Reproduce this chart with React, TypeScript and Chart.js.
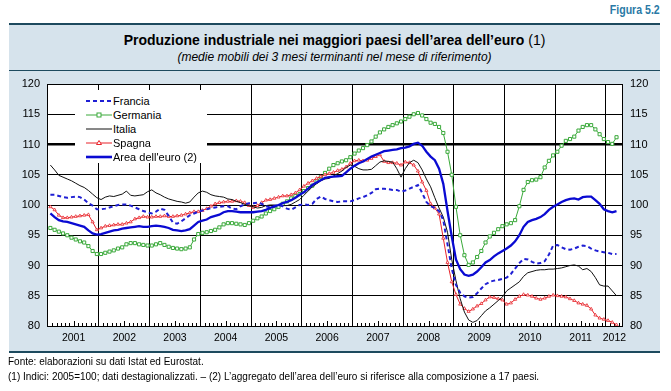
import React, { useEffect, useRef } from "react";
import { Chart, registerables } from "chart.js";
Chart.register(...registerables);

// Monthly data, Jan 2001 .. Mar 2012 (3-month moving averages, 2005=100)
const francia = [
  101.7, 101.7, 101.5, 101.3, 101.2, 101.3, 101.4, 101.3, 100.9, 100.3, 99.9, 99.3,
  99.3, 99.4, 99.6, 99.8, 100.0, 100.1, 100.1, 99.9, 99.6, 99.3, 99.0, 98.8,
  98.6, 98.9, 99.4, 99.2, 98.2, 97.1, 96.9, 97.3, 97.8, 98.3, 98.6, 98.9,
  99.1, 99.3, 99.5, 99.6, 99.7, 99.8, 99.8, 99.4, 99.3, 99.8, 100.1, 100.3,
  100.3, 100.4, 100.2, 99.8, 99.6, 99.7, 100.0, 99.8, 99.4, 99.2, 99.6, 100.0,
  100.1, 100.0, 100.2, 101.0, 101.4, 101.0, 100.8, 100.6, 100.5, 100.6, 100.6, 100.6,
  100.8, 101.1, 101.3, 101.6, 102.0, 102.6, 102.7, 102.7, 102.6, 102.5, 102.5, 102.2,
  102.4, 102.7, 103.0, 103.3, 102.0, 100.5, 99.8, 99.5, 99.0, 97.5, 93.5, 89.5,
  86.8, 85.5, 84.9, 84.7, 84.8, 85.4, 86.2, 86.9, 87.3, 87.5, 87.6, 87.8,
  88.0, 88.6, 89.5, 90.4, 91.1, 91.0, 90.6, 90.3, 90.4, 90.7, 91.8, 93.3,
  93.4, 93.0, 92.7, 92.6, 92.8, 93.1, 93.3, 93.2, 92.8, 92.5, 92.3, 92.2,
  92.1, 91.9, 91.9,
];
const germania = [
  96.2, 95.9, 95.6, 95.3, 95.0, 94.6, 94.3, 94.0, 93.8, 93.2, 92.4, 91.9,
  91.9, 92.1, 92.3, 92.5, 92.8, 93.0, 93.5, 93.7, 93.7, 93.5, 93.4, 93.3,
  93.3, 93.5, 93.7, 93.4, 93.1, 92.9, 92.8, 92.7, 92.8, 93.0, 94.3, 95.2,
  95.4, 95.5, 95.7, 95.9, 96.3, 96.8, 97.0, 97.0, 96.9, 96.8, 96.7, 97.0,
  97.4, 97.8, 98.1, 98.6, 99.0, 99.3, 99.7, 100.2, 100.6, 101.1, 101.5, 101.8,
  102.3, 102.8, 103.2, 103.9, 104.6, 105.3, 106.0, 106.6, 106.9, 107.2, 107.4, 107.9,
  108.5, 109.0, 109.4, 109.9, 110.5, 111.3, 112.0, 112.5, 112.9, 113.2, 113.5, 113.8,
  114.2, 114.6, 115.0, 115.2, 114.8, 114.2, 113.6, 113.4, 112.9, 111.9, 108.8, 105.0,
  99.7, 95.0, 91.7, 90.1, 90.5, 91.4, 92.4, 93.8, 94.8, 95.4, 96.0, 96.5,
  96.8, 97.0, 97.5, 99.8, 102.5, 103.8, 104.1, 104.2, 104.6, 106.2, 107.3, 108.2,
  108.8, 109.8, 110.6, 110.9, 111.3, 112.3, 112.9, 113.2, 113.2, 112.5, 111.7, 110.9,
  110.4, 110.1, 111.2,
];
const italia = [
  106.6, 105.8, 104.9, 104.6, 104.3, 104.0, 103.6, 103.2, 102.9, 102.4, 101.8, 101.2,
  100.9, 101.3, 101.5, 101.4, 101.6, 101.8, 102.3, 101.6, 101.5, 101.6, 101.7, 102.2,
  102.5, 102.0, 101.7, 101.3, 101.0, 100.8, 100.6, 100.5, 100.3, 100.5, 101.3, 102.0,
  102.3, 102.1, 101.7, 101.5, 101.4, 101.3, 101.0, 100.9, 100.6, 100.4, 100.1, 99.9,
  99.7, 99.5, 99.6, 99.9, 100.0, 100.0, 99.9, 99.9, 99.9, 100.1, 100.5, 100.9,
  101.6, 102.3, 103.0, 103.5, 104.0, 104.3, 104.4, 104.8, 105.2, 105.6, 106.2, 106.6,
  106.4, 106.0, 105.8, 105.8, 105.9, 106.5, 107.1, 107.3, 107.2, 107.1, 106.0, 104.6,
  106.0, 107.0, 107.4, 107.0, 105.8, 104.3, 103.0, 101.2, 99.5, 98.0, 95.5, 91.0,
  87.5, 84.5, 82.3, 81.0, 80.6, 80.9, 81.7, 82.5, 83.0, 83.6, 84.2, 84.8,
  85.8, 86.3, 86.8, 87.3, 88.2, 88.8, 89.0, 89.2, 89.3, 89.3, 89.4, 89.4,
  89.5, 89.6, 89.8, 90.0, 90.1, 89.9, 89.3, 89.5, 89.0, 88.0, 86.8, 86.6,
  86.6, 85.8, 85.0,
];
const spagna = [
  99.7, 99.2, 98.3, 97.9, 97.9, 98.0, 98.1, 98.2, 98.3, 98.4, 97.2, 95.9,
  96.2, 96.5, 96.6, 96.7, 96.8, 96.8, 97.0, 97.2, 97.7, 97.9, 98.1, 98.0,
  98.0, 98.1, 98.1, 98.2, 98.1, 98.1, 98.2, 98.3, 98.5, 98.7, 98.9, 98.9,
  99.1, 99.4, 99.8, 100.2, 100.4, 100.5, 100.6, 100.6, 100.7, 100.6, 100.4, 99.9,
  99.6, 99.9, 100.4, 100.8, 100.9, 101.1, 101.3, 101.5, 101.5, 101.7, 102.0, 102.5,
  103.1, 103.6, 104.0, 104.4, 104.7, 105.0, 105.2, 105.4, 105.7, 105.9, 106.3, 106.9,
  107.3, 107.4, 107.3, 107.4, 107.7, 108.0, 108.3, 107.2, 107.0, 107.0, 106.9, 106.6,
  107.1, 107.0, 106.6, 105.6, 103.8, 102.4, 100.2, 99.5, 98.5, 94.5, 90.5, 87.3,
  85.2, 83.6, 82.9, 82.4, 82.8, 83.3, 83.7, 84.3, 84.8, 84.7, 84.5, 84.3,
  83.6, 83.8, 84.4, 84.9, 85.2, 85.1, 84.9, 84.6, 84.4, 84.6, 84.9, 85.1,
  85.0, 84.9, 84.8, 84.5, 84.2, 83.8, 83.6, 83.4, 82.8, 81.8, 81.3, 81.1,
  80.9, 80.6, 80.2,
];
const areaEuro = [
  98.6, 98.0, 97.5, 97.3, 97.2, 97.0, 96.8, 96.6, 96.4, 95.8, 95.3, 95.1,
  95.2, 95.4, 95.6, 95.8, 95.9, 96.1, 96.2, 96.3, 96.4, 96.5, 96.4, 96.4,
  96.5, 96.6, 96.5, 96.4, 96.2, 95.9, 95.8, 95.7, 95.8, 96.0, 96.6, 97.2,
  97.4, 97.6, 98.0, 98.2, 98.4, 98.8, 99.0, 99.0, 98.9, 98.8, 98.8, 98.8,
  98.8, 98.9, 99.0, 99.2, 99.5, 99.8, 100.0, 100.3, 100.5, 100.8, 101.2, 101.7,
  102.1, 102.7, 103.3, 103.7, 104.1, 104.5, 104.6, 104.7, 104.75, 104.8, 105.4, 106.0,
  106.5, 106.9, 107.2, 107.6, 108.0, 108.3, 108.6, 108.9, 109.0, 109.1, 109.2, 109.4,
  109.5, 109.7, 110.1, 110.3, 109.8, 108.8, 108.0, 107.4, 106.0, 103.5, 99.0, 94.8,
  91.0, 89.4, 88.5, 88.3, 88.5, 89.0, 89.7, 90.5, 90.9, 91.5, 92.0, 92.4,
  92.8, 93.3, 94.0, 95.0, 96.4, 97.2, 97.5, 97.7, 98.0, 98.5, 99.2, 99.7,
  100.1, 100.5, 100.8, 101.0, 101.1, 100.9, 101.3, 101.4, 101.4, 100.8, 100.2, 99.3,
  99.0, 98.8, 99.0,
];

// Year labels (placed mid-year; 2012 is partial)
const yearLabels = ["2001", "2002", "2003", "2004", "2005", "2006", "2007", "2008", "2009", "2010", "2011", "2012"];
const yearLabelPos = [5.5, 17.5, 29.5, 41.5, 53.5, 65.5, 77.5, 89.5, 101.5, 113.5, 125.5, 133.5];
const yearBoundaries = [11.5, 23.5, 35.5, 47.5, 59.5, 71.5, 83.5, 95.5, 107.5, 119.5, 131.5];
const yTicks = { min: 80, max: 120, step: 5 };

const C_FR = "#1f1fd4";
const C_DE = "#3aa93a";
const C_IT = "#111111";
const C_ES = "#e8232a";
const C_EA = "#0a0ad2";
const FONT = '"Liberation Sans", Arial, sans-serif';

const toXY = (arr: number[]) => arr.map((y, i) => ({ x: i, y }));

const labelMap: Record<string, string> = {};
yearLabelPos.forEach((p, i) => (labelMap[String(p)] = yearLabels[i]));
const boundarySet = new Set(yearBoundaries.map(String));

const plotBgPlugin = {
  id: "plotBg",
  beforeDraw(chart: any) {
    const { ctx, chartArea: a } = chart;
    ctx.save();
    ctx.fillStyle = "#ffffff";
    ctx.fillRect(a.left, a.top, a.right - a.left, a.bottom - a.top);
    ctx.restore();
  },
};

const monthTicksPlugin = {
  id: "monthTicks",
  beforeDatasetsDraw(chart: any) {
    const { ctx, chartArea: a, scales } = chart;
    const xs = scales.x;
    ctx.save();
    ctx.strokeStyle = "#000";
    ctx.lineWidth = 1;
    ctx.beginPath();
    for (let k = 1; k <= 135; k++) {
      const t = k - 0.5;
      if (boundarySet.has(String(t))) continue;
      const mid = (k % 12) === 6;
      const px = Math.round(xs.getPixelForValue(t)) + 0.5;
      if (px <= a.left + 1 || px >= a.right - 1) continue;
      ctx.moveTo(px, a.bottom);
      ctx.lineTo(px, a.bottom - (mid ? 5 : 3));
    }
    ctx.stroke();
    ctx.restore();
  },
};

function LegendSample({ color, width, dash, marker }: any) {
  return (
    <svg width={26} height={10} style={{ display: "block" }}>
      <line x1={0} y1={5} x2={26} y2={5} stroke={color} strokeWidth={width} strokeDasharray={dash || undefined} />
      {marker === "square" && <rect x={11} y={3} width={4} height={4} fill="#fff" stroke={color} strokeWidth={1} />}
      {marker === "triangle" && <polygon points="13,2.5 15.5,6.5 10.5,6.5" fill="#fff" stroke={color} strokeWidth={1} />}
    </svg>
  );
}

const legendItems = [
  { label: "Francia", color: C_FR, width: 2.2, dash: "4,3" },
  { label: "Germania", color: C_DE, width: 1, marker: "square" },
  { label: "Italia", color: C_IT, width: 1 },
  { label: "Spagna", color: C_ES, width: 1, marker: "triangle" },
  { label: "Area dell'euro (2)", color: C_EA, width: 2.6 },
];

export default function App() {
  const ref = useRef<HTMLCanvasElement>(null);
  useEffect(() => {
    if (!ref.current) return;
    const tickFont = { family: FONT, size: 11 };
    const chart = new Chart(ref.current, {
      type: "line",
      data: {
        datasets: [
          { label: "Francia", data: toXY(francia), borderColor: C_FR, borderWidth: 2, borderDash: [4, 3], pointRadius: 0, order: 1 },
          {
            label: "Germania", data: toXY(germania), borderColor: C_DE, borderWidth: 1,
            pointStyle: "rect", pointRadius: 2.2, pointBackgroundColor: "#fff", pointBorderColor: C_DE, pointBorderWidth: 1, order: 4,
          },
          { label: "Italia", data: toXY(italia), borderColor: C_IT, borderWidth: 1, pointRadius: 0, order: 2 },
          {
            label: "Spagna", data: toXY(spagna), borderColor: C_ES, borderWidth: 1,
            pointStyle: "triangle", pointRadius: 1.8, pointBackgroundColor: "#fff", pointBorderColor: C_ES, pointBorderWidth: 0.8, order: 3,
          },
          { label: "Area dell'euro (2)", data: toXY(areaEuro), borderColor: C_EA, borderWidth: 2.3, pointRadius: 0, order: 0 },
        ],
      },
      options: {
        animation: false,
        responsive: false,
        devicePixelRatio: 1,
        layout: { padding: { top: 84, bottom: 35, left: 0, right: 0 } },
        plugins: { legend: { display: false }, tooltip: { enabled: false } },
        elements: { line: { tension: 0 } },
        scales: {
          x: {
            type: "linear",
            min: -0.8,
            max: 135.3,
            bounds: "data",
            afterBuildTicks: (s: any) => {
              const vals = [...yearBoundaries, ...yearLabelPos].sort((a, b) => a - b);
              s.ticks = vals.map((v) => ({ value: v }));
            },
            ticks: {
              autoSkip: false,
              maxRotation: 0,
              minRotation: 0,
              padding: 6,
              font: { family: FONT, size: 10.5 },
              color: "#000",
              callback: (v: any) => labelMap[String(v)] ?? "",
            },
            grid: {
              drawTicks: false,
              color: (c: any) => (c.tick && boundarySet.has(String(c.tick.value)) ? "#000" : "rgba(0,0,0,0)"),
              lineWidth: 1,
            },
            border: { display: true, color: "#000", width: 1 },
            afterFit: (s: any) => { s.height = 30; },
          },
          y: {
            position: "left",
            min: yTicks.min,
            max: yTicks.max,
            ticks: { stepSize: yTicks.step, padding: 7, font: tickFont, color: "#000" },
            grid: {
              drawTicks: false,
              color: "#000",
              lineWidth: (c: any) => (c.tick && c.tick.value === 110 ? 2.6 : 1),
            },
            border: { display: true, color: "#000", width: 1 },
            afterFit: (s: any) => { s.width = 47; },
          },
          y2: {
            position: "right",
            min: yTicks.min,
            max: yTicks.max,
            ticks: { stepSize: yTicks.step, padding: 8, font: tickFont, color: "#000" },
            grid: { drawTicks: false, drawOnChartArea: false },
            border: { display: true, color: "#000", width: 1 },
            afterFit: (s: any) => { s.width = 49; },
          },
        },
      },
      plugins: [plotBgPlugin, monthTicksPlugin],
    } as any);
    return () => chart.destroy();
  }, []);

  const dark = "#1d4a5e";
  return (
    <div style={{ position: "fixed", left: 0, top: 0, width: 671, height: 391, background: "#fff", overflow: "hidden", fontFamily: FONT, color: "#000" }}>
      <div style={{ position: "absolute", right: 11, top: 3, fontSize: 12, fontWeight: "bold", color: "#2a7aa6", transform: "scaleX(0.88)", transformOrigin: "right center", whiteSpace: "nowrap" }}>
        Figura 5.2
      </div>
      <div style={{ position: "absolute", left: 9, top: 23, width: 651, height: 330, background: "#d6e3ec", borderTop: `2px solid ${dark}`, borderBottom: `2px solid ${dark}`, boxSizing: "border-box" }} />
      <div style={{ position: "absolute", left: 9, top: 70, width: 651, height: 1, background: dark }} />
      <div style={{ position: "absolute", left: 9, width: 651, top: 31, lineHeight: "18px", fontSize: 14, textAlign: "center", whiteSpace: "nowrap" }}>
        <span style={{ fontWeight: "bold" }}>Produzione industriale nei maggiori paesi dell’area dell’euro</span> (1)
      </div>
      <div style={{ position: "absolute", left: 9, width: 651, top: 50, lineHeight: "15px", fontSize: 12, fontStyle: "italic", textAlign: "center", whiteSpace: "nowrap" }}>
        (medie mobili dei 3 mesi terminanti nel mese di riferimento)
      </div>
      <canvas ref={ref} width={671} height={391} style={{ position: "absolute", left: 0, top: 0, width: 671, height: 391 }} />
      <div style={{ position: "absolute", left: 75, top: 90, width: 132, height: 73, background: "#fff" }}>
        {legendItems.map((it, i) => (
          <div key={it.label} style={{ position: "absolute", left: 11, top: 4 + i * 14, height: 14, display: "flex", alignItems: "center", whiteSpace: "nowrap" }}>
            <LegendSample {...it} />
            <span style={{ fontSize: 11, marginLeft: 1, lineHeight: "14px" }}>{it.label}</span>
          </div>
        ))}
      </div>
      <div style={{ position: "absolute", left: 8, top: 356, fontSize: 10, lineHeight: "12px", whiteSpace: "nowrap" }}>
        Fonte: elaborazioni su dati Istat ed Eurostat.
      </div>
      <div style={{ position: "absolute", left: 8, top: 371, fontSize: 10, lineHeight: "12px", whiteSpace: "nowrap" }}>
        (1) Indici: 2005=100; dati destagionalizzati. – (2) L’aggregato dell’area dell’euro si riferisce alla composizione a 17 paesi.
      </div>
    </div>
  );
}
